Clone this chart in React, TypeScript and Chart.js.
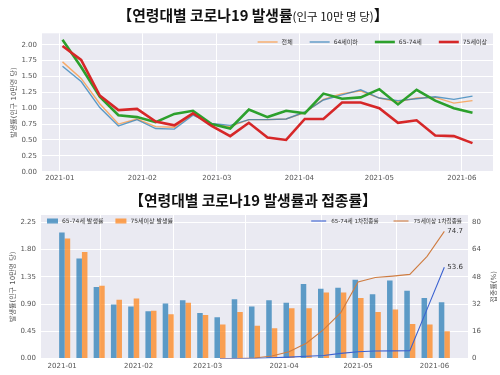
import React, { useEffect, useRef } from 'react';
import { Chart, registerables } from 'chart.js';

Chart.register(...registerables);

// ---------------- data ----------------
const weekDates = [
  '2021-01-02', '2021-01-09', '2021-01-16', '2021-01-23', '2021-01-30',
  '2021-02-06', '2021-02-13', '2021-02-20', '2021-02-27',
  '2021-03-06', '2021-03-13', '2021-03-20', '2021-03-27',
  '2021-04-03', '2021-04-10', '2021-04-17', '2021-04-24',
  '2021-05-01', '2021-05-08', '2021-05-15', '2021-05-22', '2021-05-29',
  '2021-06-05',
];
const monthStarts = ['2021-01-01', '2021-02-01', '2021-03-01', '2021-04-01', '2021-05-01', '2021-06-01'];
const monthLabels = ['2021-01', '2021-02', '2021-03', '2021-04', '2021-05', '2021-06'];

const rateAll = [1.73, 1.47, 1.07, 0.75, 0.83, 0.71, 0.70, 0.91, 0.75, 0.71, 0.82, 0.82, 0.83, 0.93, 1.14, 1.23, 1.27, 1.16, 1.10, 1.16, 1.17, 1.08, 1.12];
const rateUnder64 = [1.66, 1.42, 1.01, 0.72, 0.82, 0.68, 0.67, 0.89, 0.76, 0.73, 0.82, 0.82, 0.83, 0.94, 1.13, 1.21, 1.29, 1.16, 1.12, 1.15, 1.18, 1.14, 1.19];
const rate65to74 = [2.08, 1.65, 1.18, 0.89, 0.86, 0.78, 0.91, 0.96, 0.75, 0.68, 0.98, 0.86, 0.96, 0.92, 1.23, 1.15, 1.17, 1.30, 1.06, 1.29, 1.12, 1.00, 0.93];
const rate75plus = [1.98, 1.76, 1.20, 0.97, 0.99, 0.79, 0.73, 0.92, 0.72, 0.56, 0.77, 0.54, 0.50, 0.83, 0.83, 1.09, 1.09, 1.00, 0.77, 0.81, 0.57, 0.56, 0.45];

const vacc65to74: (number | null)[] = [null, null, null, null, null, null, null, null, null, 0, 0, 0, 0.4, 0.8, 1.3, 1.8, 3.0, 4.0, 4.4, 4.5, 4.6, 29, 53.6];
const vacc75plus: (number | null)[] = [null, null, null, null, null, null, null, null, null, 0, 0, 0.3, 1.5, 4.0, 9.0, 17.0, 27.0, 45.0, 47.6, 48.4, 49.4, 60.0, 74.7];

const topYTicks = [0, 0.25, 0.5, 0.75, 1.0, 1.25, 1.5, 1.75, 2.0];
const rateTicks = [0, 0.45, 0.9, 1.35, 1.8, 2.25];
const vaccTicks = [0, 16, 32, 48, 64, 80];

// ---------------- helpers ----------------
const FONT = "'DejaVu Sans', 'Noto Sans CJK KR', sans-serif";
const BG = '#eaeaf2';
const TICK_COLOR = '#555';

const dayOf = (s: string) => {
  const [y, m, d] = s.split('-').map(Number);
  return (Date.UTC(y, m - 1, d) - Date.UTC(2021, 0, 1)) / 86400000;
};
const weekDays = weekDates.map(dayOf);
const monthDays = monthStarts.map(dayOf);

const toXY = (vals: (number | null)[]) =>
  vals.map((v, i) => ({ x: weekDays[i], y: v })).filter((p) => p.y !== null);

const plotBg = {
  id: 'plotBg',
  beforeDraw(chart: any) {
    const { ctx, chartArea: a } = chart;
    ctx.save();
    ctx.fillStyle = BG;
    ctx.fillRect(a.left, a.top, a.right - a.left, a.bottom - a.top);
    ctx.restore();
  },
};

type LegendEntry = { text: string; color: string; kind: 'line' | 'rect'; width: number };

function makeLegend(
  id: string,
  entries: LegendEntry[],
  align: 'left' | 'right',
  inset: number,
  dy: number,
  sym: number,
  gapSym: number,
  gapItem: number,
  fontSize: number,
) {
  return {
    id,
    afterDraw(chart: any) {
      const { ctx, chartArea: a } = chart;
      ctx.save();
      ctx.font = `${fontSize}px ${FONT}`;
      ctx.textBaseline = 'middle';
      ctx.textAlign = 'left';
      const widths = entries.map((e) => sym + gapSym + ctx.measureText(e.text).width);
      const total = widths.reduce((s, w) => s + w, 0) + gapItem * (entries.length - 1);
      let cx = align === 'left' ? a.left + inset : a.right - inset - total;
      const y = a.top + dy;
      entries.forEach((e, i) => {
        if (e.kind === 'line') {
          ctx.strokeStyle = e.color;
          ctx.lineWidth = e.width;
          ctx.beginPath();
          ctx.moveTo(cx, y);
          ctx.lineTo(cx + sym, y);
          ctx.stroke();
        } else {
          ctx.fillStyle = e.color;
          ctx.fillRect(cx, y - e.width / 2, sym, e.width);
        }
        ctx.fillStyle = '#333';
        ctx.fillText(e.text, cx + sym + gapSym, y + 0.5);
        cx += widths[i] + gapItem;
      });
      ctx.restore();
    },
  };
}

const xScale = (min: number, max: number, height: number, pad: number) => ({
  type: 'linear',
  min,
  max,
  offset: false,
  afterBuildTicks: (s: any) => {
    s.ticks = monthDays.map((v) => ({ value: v }));
  },
  afterFit: (s: any) => {
    s.height = height;
  },
  ticks: {
    autoSkip: false,
    maxRotation: 0,
    padding: pad,
    color: TICK_COLOR,
    font: { family: FONT, size: 7 },
    callback: (_v: any, i: number) => monthLabels[i],
  },
  grid: { color: '#ffffff', lineWidth: 1, drawTicks: false },
  border: { display: false },
});

// ---------------- top chart ----------------
const TOP_ORANGE = 'rgba(255,127,14,0.6)';
const TOP_BLUE = 'rgba(31,119,180,0.7)';
const TOP_GREEN = '#2ca02c';
const TOP_RED = '#d62728';

function topConfig(): any {
  const series = [
    { label: '전체', data: rateAll, color: TOP_ORANGE, width: 1.4 },
    { label: '64세이하', data: rateUnder64, color: TOP_BLUE, width: 1.4 },
    { label: '65-74세', data: rate65to74, color: TOP_GREEN, width: 2.6 },
    { label: '75세이상', data: rate75plus, color: TOP_RED, width: 2.6 },
  ];
  return {
    type: 'line',
    data: {
      datasets: series.map((s, i) => ({
        label: s.label,
        data: toXY(s.data),
        borderColor: s.color,
        backgroundColor: s.color,
        borderWidth: s.width,
        pointRadius: 0,
        tension: 0,
        order: series.length - i,
      })),
    },
    options: {
      responsive: false,
      animation: false,
      layout: { padding: { top: 33.3, right: 7, left: 0, bottom: 0 } },
      plugins: { legend: { display: false }, tooltip: { enabled: false }, title: { display: false } },
      scales: {
        x: xScale(-6.7, 162.7, 13.3, 2.5),
        y: {
          min: 0,
          max: 2.18,
          afterBuildTicks: (s: any) => {
            s.ticks = topYTicks.map((v) => ({ value: v }));
          },
          afterFit: (s: any) => {
            s.width = 42;
          },
          ticks: {
            padding: 5,
            color: TICK_COLOR,
            font: { family: FONT, size: 7 },
            callback: (v: number) => v.toFixed(2),
          },
          grid: { color: '#ffffff', lineWidth: 1, drawTicks: false },
          border: { display: false },
          title: {
            display: true,
            text: '발생률(인구 10만명 당)',
            color: TICK_COLOR,
            font: { family: FONT, size: 7 },
            padding: { top: 10, bottom: 0 },
          },
        },
      },
    },
    plugins: [
      plotBg,
      makeLegend(
        'topLegend',
        series.map((s) => ({ text: s.label, color: s.color, kind: 'line' as const, width: s.width })),
        'right',
        6,
        8.7,
        20,
        4,
        17,
        6,
      ),
    ],
  };
}

// ---------------- bottom chart ----------------
const BAR_BLUE = 'rgba(31,119,180,0.7)';
const BAR_ORANGE = 'rgba(255,127,14,0.7)';
const LINE_BLUE = '#3b62d1';
const LINE_ORANGE = '#cf7d42';

const endLabels = {
  id: 'endLabels',
  afterDatasetsDraw(chart: any) {
    const ctx = chart.ctx;
    ctx.save();
    ctx.font = `7px ${FONT}`;
    ctx.fillStyle = '#333';
    ctx.textBaseline = 'middle';
    ctx.textAlign = 'left';
    chart.data.datasets.forEach((ds: any, i: number) => {
      if (ds.type !== 'line') return;
      const meta = chart.getDatasetMeta(i);
      const last = meta.data[meta.data.length - 1];
      const val = ds.data[ds.data.length - 1].y;
      ctx.fillText(val.toFixed(1), last.x + 3, last.y);
    });
    ctx.restore();
  },
};

const rightTitle = {
  id: 'rightTitle',
  afterDraw(chart: any) {
    const { ctx, chartArea: a } = chart;
    ctx.save();
    ctx.font = `7px ${FONT}`;
    ctx.fillStyle = TICK_COLOR;
    ctx.textAlign = 'center';
    ctx.textBaseline = 'middle';
    ctx.translate(chart.width - 6, (a.top + a.bottom) / 2);
    ctx.rotate(-Math.PI / 2);
    ctx.fillText('접종률(%)', 0, 0);
    ctx.restore();
  },
};

function bottomConfig(): any {
  return {
    type: 'bar',
    data: {
      datasets: [
        {
          type: 'bar',
          label: '65-74세 발생률',
          data: toXY(rate65to74),
          backgroundColor: BAR_BLUE,
          borderWidth: 0,
          yAxisID: 'y',
          order: 2,
          categoryPercentage: 0.64,
          barPercentage: 1,
        },
        {
          type: 'bar',
          label: '75세이상 발생률',
          data: toXY(rate75plus),
          backgroundColor: BAR_ORANGE,
          borderWidth: 0,
          yAxisID: 'y',
          order: 2,
          categoryPercentage: 0.64,
          barPercentage: 1,
        },
        {
          type: 'line',
          label: '65-74세 1차접종률',
          data: toXY(vacc65to74),
          borderColor: LINE_BLUE,
          backgroundColor: LINE_BLUE,
          borderWidth: 1.1,
          pointRadius: 0,
          tension: 0,
          yAxisID: 'y2',
          order: 0,
        },
        {
          type: 'line',
          label: '75세이상 1차접종률',
          data: toXY(vacc75plus),
          borderColor: LINE_ORANGE,
          backgroundColor: LINE_ORANGE,
          borderWidth: 1.1,
          pointRadius: 0,
          tension: 0,
          yAxisID: 'y2',
          order: 0,
        },
      ],
    },
    options: {
      responsive: false,
      animation: false,
      layout: { padding: { top: 30, right: 0, left: 0, bottom: 0 } },
      plugins: { legend: { display: false }, tooltip: { enabled: false }, title: { display: false } },
      scales: {
        x: xScale(-8.6, 164.6, 16.5, 3),
        y: {
          position: 'left',
          min: 0,
          max: 2.37,
          afterBuildTicks: (s: any) => {
            s.ticks = rateTicks.map((v) => ({ value: v }));
          },
          afterFit: (s: any) => {
            s.width = 41;
          },
          ticks: {
            padding: 5,
            color: TICK_COLOR,
            font: { family: FONT, size: 7 },
            callback: (v: number) => v.toFixed(2),
          },
          grid: { color: '#ffffff', lineWidth: 1, drawTicks: false },
          border: { display: false },
          title: {
            display: true,
            text: '발생률(인구 10만명 당)',
            color: TICK_COLOR,
            font: { family: FONT, size: 7 },
            padding: { top: 9, bottom: 0 },
          },
        },
        y2: {
          position: 'right',
          min: 0,
          max: 84.3,
          afterBuildTicks: (s: any) => {
            s.ticks = vaccTicks.map((v) => ({ value: v }));
          },
          afterFit: (s: any) => {
            s.width = 32;
          },
          ticks: {
            padding: 4,
            color: TICK_COLOR,
            font: { family: FONT, size: 7 },
            callback: (v: number) => String(v),
          },
          grid: { display: false, drawTicks: false },
          border: { display: false },
        },
      },
    },
    plugins: [
      plotBg,
      endLabels,
      rightTitle,
      makeLegend(
        'barLegend',
        [
          { text: '65-74세 발생률', color: BAR_BLUE, kind: 'rect', width: 5 },
          { text: '75세이상 발생률', color: BAR_ORANGE, kind: 'rect', width: 5 },
        ],
        'left',
        6,
        6,
        11,
        4,
        12,
        6,
      ),
      makeLegend(
        'lineLegend',
        [
          { text: '65-74세 1차접종률', color: LINE_BLUE, kind: 'line', width: 1.1 },
          { text: '75세이상 1차접종률', color: LINE_ORANGE, kind: 'line', width: 1.1 },
        ],
        'right',
        6,
        6,
        15,
        5,
        15,
        5.6,
      ),
    ],
  };
}

// ---------------- component ----------------
const titleStyle = (top: number): React.CSSProperties => ({
  position: 'absolute',
  left: 3,
  top,
  width: 500,
  textAlign: 'center',
  fontFamily: "'Noto Sans CJK KR', sans-serif",
  fontWeight: 700,
  fontSize: 14.8,
  lineHeight: '18px',
  color: '#111',
  whiteSpace: 'nowrap',
});

export default function App() {
  const topRef = useRef<HTMLCanvasElement>(null);
  const botRef = useRef<HTMLCanvasElement>(null);

  useEffect(() => {
    const c1 = new Chart(topRef.current as HTMLCanvasElement, topConfig());
    const c2 = new Chart(botRef.current as HTMLCanvasElement, bottomConfig());
    return () => {
      c1.destroy();
      c2.destroy();
    };
  }, []);

  return (
    <div style={{ position: 'absolute', left: 0, top: 0, width: 500, height: 375, background: '#fff', overflow: 'hidden' }}>
      <canvas ref={topRef} width={500} height={185} style={{ position: 'absolute', left: 0, top: 0 }} />
      <canvas ref={botRef} width={500} height={190} style={{ position: 'absolute', left: 0, top: 185 }} />
      <div style={titleStyle(6)}>
        【연령대별 코로나19 발생률
        <span style={{ fontSize: 11.5, fontWeight: 400 }}>(인구 10만 명 당)</span>】
      </div>
      <div style={titleStyle(191)}>【연령대별 코로나19 발생률과 접종률】</div>
    </div>
  );
}
